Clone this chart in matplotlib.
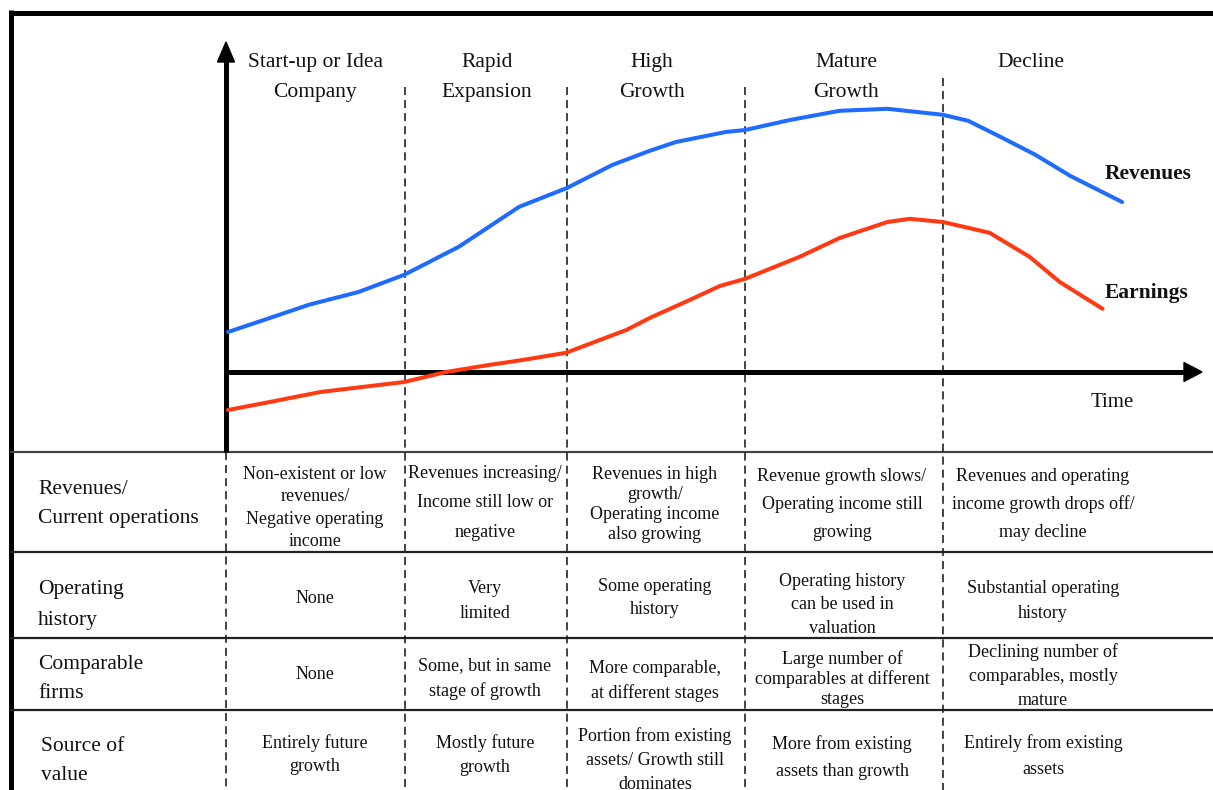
import matplotlib
matplotlib.use("Agg")
import matplotlib.pyplot as plt
from matplotlib.patches import Polygon

plt.rcParams['font.family'] = ['Liberation Serif', 'DejaVu Serif']
plt.rcParams['lines.scale_dashes'] = False

# ---------------- data (time 0..100, value units; axis at value 0) ----------------
rev_t = [0.2, 4.5, 8.5, 13.6, 18.3, 23.9, 30.1, 35.0, 39.7, 43.5, 46.2, 51.3, 53.3,
         57.9, 63.0, 67.9, 73.6, 76.2, 79.5, 83.1, 86.7, 92.0]
rev_v = [10.0, 13.5, 16.8, 20.0, 24.3, 31.3, 41.3, 46.0, 51.8, 55.3, 57.5, 60.0, 60.5,
         63.0, 65.3, 65.8, 64.3, 62.8, 58.8, 54.3, 49.0, 42.5]
earn_t = [0.2, 4.5, 9.7, 13.8, 18.3, 22.6, 27.1, 29.1, 31.2, 34.9, 41.1, 43.5, 47.6,
          50.7, 53.3, 58.9, 63.0, 67.9, 70.2, 73.6, 78.4, 82.5, 85.6, 90.0]
earn_v = [-9.5, -7.5, -5.0, -3.8, -2.5, 0.0, 1.8, 2.5, 3.3, 4.8, 10.5, 13.5, 18.0,
          21.5, 23.3, 28.8, 33.5, 37.5, 38.3, 37.5, 34.8, 28.8, 22.5, 15.8]

stages = ["Start-up or Idea\nCompany", "Rapid\nExpansion", "High\nGrowth",
          "Mature\nGrowth", "Decline"]
row_labels = ["Revenues/\nCurrent operations", "Operating\nhistory",
              "Comparable\nfirms", "Source of\nvalue"]
cells = [
    ["Non-existent or low\nrevenues/\nNegative operating\nincome",
     "Revenues increasing/\nIncome still low or\nnegative",
     "Revenues in high\ngrowth/\nOperating income\nalso growing",
     "Revenue growth slows/\nOperating income still\ngrowing",
     "Revenues and operating\nincome growth drops off/\nmay decline"],
    ["None", "Very\nlimited", "Some operating\nhistory",
     "Operating history\ncan be used in\nvaluation",
     "Substantial operating\nhistory"],
    ["None", "Some, but in same\nstage of growth",
     "More comparable,\nat different stages",
     "Large number of\ncomparables at different\nstages",
     "Declining number of\ncomparables, mostly\nmature"],
    ["Entirely future\ngrowth", "Mostly future\ngrowth",
     "Portion from existing\nassets/ Growth still\ndominates",
     "More from existing\nassets than growth",
     "Entirely from existing\nassets"],
]

# ---------------- layout (pixels) ----------------
W, H = 1213, 790
fig = plt.figure(figsize=(W / 100, H / 100), dpi=100)
lay = fig.add_axes([0, 0, 1, 1])
lay.set_xlim(0, W)
lay.set_ylim(H, 0)
lay.axis('off')

AX_X, AX_Y, TOP, RIGHT, TBL_TOP = 226, 372, 42, 1202, 452
chart = fig.add_axes([AX_X / W, (H - TBL_TOP) / H, (1200 - AX_X) / W, (TBL_TOP - TOP) / H])
chart.set_xlim(0, 100)
chart.set_ylim(-20, 82.5)
chart.axis('off')
chart.patch.set_alpha(0)

TXT = '#111111'
PX = 100 / 72.0

def put_lines(x, y0, gap, text, size, ha='center', **kw):
    fpx = size * PX
    for i, ln in enumerate(text.split('\n')):
        lay.text(x, y0 + i * gap + 0.33 * fpx, ln, ha=ha, va='baseline',
                 fontsize=size, color=TXT, **kw)

# border
lay.plot([9, W], [12.5, 12.5], color='black', lw=3.6, solid_capstyle='butt')
lay.plot([11, 11], [10, H], color='black', lw=3.6, solid_capstyle='butt')

# table horizontal lines
lay.plot([11, W], [TBL_TOP, TBL_TOP], color='#444444', lw=1.6)
for yy in [552, 638, 710]:
    lay.plot([11, W], [yy, yy], color='#222222', lw=1.6)

# dashed lines
dash = (5.8, 3.6)
lay.plot([AX_X, AX_X], [TBL_TOP, H], color='#222222', lw=1.2, dashes=dash)
for xx, y0 in [(405, 87), (567, 87), (745, 87), (943, 78)]:
    lay.plot([xx, xx], [y0, H], color='#222222', lw=1.2, dashes=dash)

# axes arrows
lay.plot([AX_X, AX_X], [TBL_TOP, 60], color='black', lw=3.6, solid_capstyle='butt')
lay.add_patch(Polygon([[AX_X, TOP], [AX_X - 8.5, 62], [AX_X + 8.5, 62]], closed=True,
                      color='black'))
lay.plot([AX_X - 2, 1186], [AX_Y, AX_Y], color='black', lw=3.6, solid_capstyle='butt')
lay.add_patch(Polygon([[RIGHT, AX_Y], [1184, AX_Y - 9.5], [1184, AX_Y + 9.5]], closed=True,
                      color='black'))

# curves
chart.plot(rev_t, rev_v, color='#1f6bff', lw=2.9, solid_capstyle='round',
           solid_joinstyle='round', clip_on=False)
chart.plot(earn_t, earn_v, color='#ff3a12', lw=2.9, solid_capstyle='round',
           solid_joinstyle='round', clip_on=False)

# headers
HS = 15.5
hdr_x = [315, 487, 652, 846, 1031]
for x, s in zip(hdr_x, stages):
    put_lines(x, 60, 30, s, HS)

# right labels
put_lines(1105, 172, 0, "Revenues", HS, ha='left', fontweight='bold')
put_lines(1105, 291, 0, "Earnings", HS, ha='left', fontweight='bold')
put_lines(1112, 400, 0, "Time", 15)

# row labels
row_pos = [(38, 487, 29), (38, 587, 31), (38, 662, 29), (41, 744, 29)]
for (x, y0, g), s in zip(row_pos, row_labels):
    put_lines(x, y0, g, s, HS, ha='left')

# cells
TS = 13
col_x = [315, 485, 655, 842, 1043]
cell_pos = [
    [(473, 22.3), (472, 29.5), (473, 20), (475, 28), (475, 28)],
    [(597, 0), (587, 25), (585, 23), (580, 23.5), (587, 25)],
    [(673, 0), (664, 26), (667, 25), (658, 20), (651, 24)],
    [(742, 23.5), (742, 24), (735, 24), (743, 27), (742, 26)],
]
for r in range(4):
    for c in range(5):
        y0, g = cell_pos[r][c]
        put_lines(col_x[c], y0, g, cells[r][c], TS)

fig.savefig('out.png', dpi=100)
